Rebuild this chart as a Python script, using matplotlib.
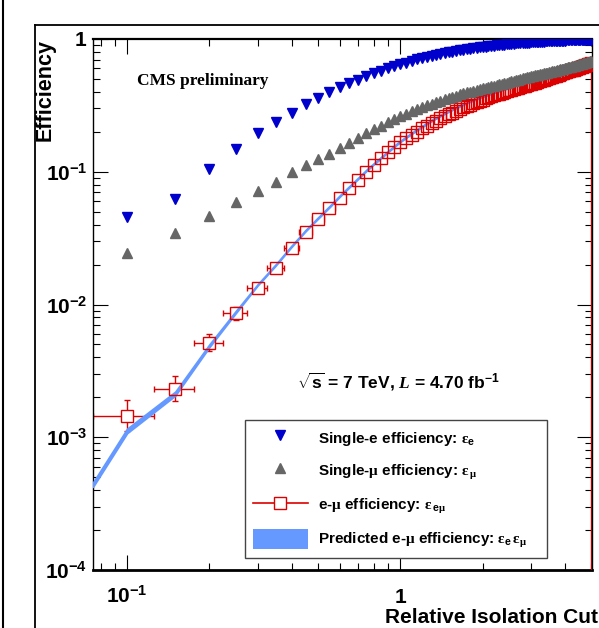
import matplotlib
matplotlib.use("Agg")
import matplotlib.pyplot as plt
import numpy as np
from matplotlib.lines import Line2D
from matplotlib.patches import Patch
from matplotlib.ticker import FixedLocator, FixedFormatter, LogLocator, NullFormatter

plt.rcParams['font.family'] = ['Liberation Sans', 'DejaVu Sans']
plt.rcParams['font.weight'] = 'bold'
plt.rcParams['mathtext.fontset'] = 'custom'
plt.rcParams['mathtext.rm'] = 'Liberation Serif'
plt.rcParams['mathtext.it'] = 'Liberation Serif:italic'
plt.rcParams['mathtext.bf'] = 'Liberation Sans:bold'
plt.rcParams['mathtext.sf'] = 'Liberation Sans:bold'

# ---------------- data ----------------
iso_cut = [0.10, 0.15, 0.20, 0.25, 0.30, 0.35, 0.40, 0.45, 0.50, 0.55,
           0.60, 0.65, 0.70, 0.75, 0.80, 0.85, 0.90, 0.95, 1.00, 1.05,
           1.10, 1.15, 1.20, 1.25, 1.30, 1.35, 1.40, 1.45, 1.50, 1.55,
           1.60, 1.65, 1.70, 1.75, 1.80, 1.85, 1.90, 1.95, 2.00, 2.05,
           2.10, 2.15, 2.20, 2.25, 2.30, 2.35, 2.40, 2.45, 2.50, 2.55,
           2.60, 2.65, 2.70, 2.75, 2.80, 2.85, 2.90, 2.95, 3.00, 3.05,
           3.10, 3.15, 3.20, 3.25, 3.30, 3.35, 3.40, 3.45, 3.50, 3.55,
           3.60, 3.65, 3.70, 3.75, 3.80, 3.85, 3.90, 3.95, 4.00, 4.05,
           4.10, 4.15, 4.20, 4.25, 4.30, 4.35, 4.40, 4.45, 4.50, 4.55,
           4.60, 4.65, 4.70, 4.75, 4.80, 4.85, 4.90, 4.95, 5.00]

eff_e = [0.046, 0.062, 0.105, 0.148, 0.195, 0.237, 0.278, 0.322, 0.362, 0.398,
         0.432, 0.464, 0.495, 0.524, 0.550, 0.576, 0.600, 0.623, 0.645, 0.665,
         0.684, 0.701, 0.717, 0.732, 0.746, 0.759, 0.771, 0.783, 0.794, 0.804,
         0.813, 0.822, 0.830, 0.838, 0.845, 0.852, 0.859, 0.865, 0.871, 0.877,
         0.882, 0.887, 0.892, 0.896, 0.900, 0.904, 0.908, 0.912, 0.915, 0.919,
         0.922, 0.925, 0.928, 0.931, 0.934, 0.936, 0.939, 0.941, 0.943, 0.945,
         0.947, 0.949, 0.951, 0.953, 0.955, 0.957, 0.958, 0.960, 0.961, 0.963,
         0.964, 0.966, 0.967, 0.968, 0.970, 0.971, 0.972, 0.973, 0.974, 0.975,
         0.976, 0.977, 0.978, 0.979, 0.980, 0.981, 0.982, 0.983, 0.984, 0.985,
         0.985, 0.986, 0.987, 0.988, 0.988, 0.989, 0.990, 0.990, 0.991]

eff_mu = [0.0243, 0.0344, 0.0466, 0.0594, 0.0719, 0.084, 0.099, 0.112, 0.124, 0.137,
          0.152, 0.166, 0.180, 0.195, 0.209, 0.222, 0.236, 0.250, 0.263, 0.274,
          0.285, 0.296, 0.306, 0.316, 0.326, 0.335, 0.344, 0.352, 0.360, 0.368,
          0.375, 0.382, 0.389, 0.396, 0.402, 0.408, 0.414, 0.420, 0.425, 0.430,
          0.435, 0.440, 0.445, 0.450, 0.455, 0.460, 0.465, 0.470, 0.475, 0.480,
          0.485, 0.490, 0.495, 0.500, 0.505, 0.510, 0.514, 0.519, 0.523, 0.527,
          0.531, 0.535, 0.539, 0.543, 0.547, 0.551, 0.555, 0.559, 0.563, 0.567,
          0.571, 0.575, 0.579, 0.583, 0.587, 0.591, 0.595, 0.599, 0.603, 0.607,
          0.611, 0.615, 0.619, 0.623, 0.627, 0.631, 0.635, 0.639, 0.643, 0.647,
          0.651, 0.655, 0.659, 0.663, 0.667, 0.671, 0.675, 0.679, 0.683]

eff_emu = [0.00144, 0.00230, 0.00515, 0.00857, 0.0134, 0.0189, 0.0265, 0.0353, 0.0440, 0.0530,
           0.0637, 0.0750, 0.0866, 0.0990, 0.112, 0.126, 0.140, 0.154, 0.168, 0.179,
           0.190, 0.201, 0.212, 0.222, 0.232, 0.242, 0.252, 0.261, 0.270, 0.279,
           0.288, 0.297, 0.305, 0.313, 0.321, 0.329, 0.336, 0.343, 0.350, 0.357,
           0.364, 0.370, 0.376, 0.382, 0.388, 0.394, 0.400, 0.405, 0.411, 0.416,
           0.421, 0.426, 0.431, 0.436, 0.441, 0.446, 0.450, 0.455, 0.460, 0.465,
           0.470, 0.475, 0.480, 0.485, 0.490, 0.495, 0.500, 0.505, 0.510, 0.515,
           0.520, 0.525, 0.530, 0.535, 0.540, 0.545, 0.550, 0.555, 0.560, 0.565,
           0.570, 0.575, 0.580, 0.584, 0.589, 0.594, 0.599, 0.604, 0.609, 0.614,
           0.619, 0.624, 0.629, 0.633, 0.638, 0.643, 0.647, 0.652, 0.656]

# visible vertical error bars on the first e-mu points
emu_err_lo = [0.00033, 0.00043, 0.00065, 0.00097, 0.0012, 0.0015, 0.0018, 0.0020]
emu_err_hi = [0.00046, 0.00060, 0.00085, 0.00093, 0.0012, 0.0015, 0.0018, 0.0020]
bin_half_width = 0.025

# predicted band (eps_e * eps_mu), starting at the left edge of the axis
pred_start_x = 0.075
pred_start_y = 0.00044
pred_rel_err_first = [0.04, 0.04, 0.035, 0.025, 0.02]
pred_rel_err_rest = 0.012

y_tick_vals = [1e-4, 1e-3, 1e-2, 1e-1, 1]
y_tick_labels = [r'$\mathbf{10^{-4}}$', r'$\mathbf{10^{-3}}$', r'$\mathbf{10^{-2}}$',
                 r'$\mathbf{10^{-1}}$', r'$\mathbf{1}$']
x_tick_vals = [0.1, 1]
x_tick_labels = [r'$\mathbf{10^{-1}}$', r'$\mathbf{1}$']

legend_labels = [
    r'Single-e efficiency: $\mathrm{\varepsilon}_{\mathbf{e}}$',
    r'Single-$\mathrm{\mu}$ efficiency: $\mathrm{\varepsilon}_{\,\mathrm{\mu}}$',
    r'e-$\mathrm{\mu}$ efficiency: $\mathrm{\varepsilon}_{\,\mathbf{e}\mathrm{\mu}}$',
    r'Predicted e-$\mathrm{\mu}$ efficiency: $\mathrm{\varepsilon}_{\mathbf{e}}\,\mathrm{\varepsilon}_{\mathrm{\mu}}$',
]

# ---------------- style ----------------
BLUE = '#0000CC'
GRAY = '#666666'
RED = '#DD0000'
BAND = '#6699FF'

W, H = 599, 628
fig = plt.figure(figsize=(W / 100, H / 100), dpi=100)
fig.patch.set_facecolor('white')

# outer frames (canvas borders)
fig.add_artist(Line2D([2.5 / W, 2.5 / W], [0, 1], color='black', lw=1.5, transform=fig.transFigure))
fig.add_artist(Line2D([35 / W, 1], [1 - 25 / H, 1 - 25 / H], color='black', lw=1.3, transform=fig.transFigure))
fig.add_artist(Line2D([35 / W, 35 / W], [0, 1 - 25 / H], color='black', lw=1.3, transform=fig.transFigure))

ax_left, ax_right, ax_top, ax_bottom = 93, 592, 39, 570
AW, AH = ax_right - ax_left, ax_bottom - ax_top
ax = fig.add_axes([ax_left / W, 1 - ax_bottom / H, AW / W, AH / H])
ax.set_xscale('log')
ax.set_yscale('log')
ax.set_xlim(0.075, 5.025)
ax.set_ylim(1e-4, 1.0)

x = np.array(iso_cut)
e = np.array(eff_e)
m = np.array(eff_mu)
em = np.array(eff_emu)

# predicted band
px = np.concatenate([[pred_start_x], x])
py = np.concatenate([[pred_start_y], e * m])
rel = np.full(len(px), pred_rel_err_rest)
rel[:len(pred_rel_err_first)] = pred_rel_err_first
ax.fill_between(px, py * (1 - rel), py * (1 + rel), color=BAND, lw=1.2, edgecolor=BAND, zorder=3)

# e-mu error bars
n_err = len(emu_err_lo)
ax.errorbar(x, em, xerr=bin_half_width, fmt='none', ecolor=RED, elinewidth=1.0,
            capsize=2.5, capthick=1.0, zorder=2)
ax.errorbar(x[:n_err], em[:n_err], yerr=[emu_err_lo, emu_err_hi], fmt='none', ecolor=RED,
            elinewidth=1.0, capsize=2.5, capthick=1.0, zorder=2)
# white interior under squares (hides bars inside the marker)
ax.plot(x, em, ls='none', marker='s', ms=9, mfc='white', mec='none', zorder=2.5)
# right edge drop of the e-mu graph
ax.plot([x[-1], x[-1]], [em[-1], 1e-4], color='#AA0000', lw=1.0, zorder=4)
ax.plot(x, em, ls='none', marker='s', ms=9, mfc='none', mec=RED, mew=1.0, zorder=4)

# single efficiencies
ax.plot(x, m, ls='none', marker='^', ms=7.4, color=GRAY, mec=GRAY, zorder=5)
ax.plot(x, e, ls='none', marker='v', ms=7.4, color=BLUE, mec=BLUE, zorder=5)

# ticks
ax.xaxis.set_major_locator(FixedLocator(x_tick_vals))
ax.xaxis.set_major_formatter(FixedFormatter(x_tick_labels))
ax.xaxis.set_minor_locator(LogLocator(base=10, subs=np.arange(2, 10), numticks=20))
ax.xaxis.set_minor_formatter(NullFormatter())
ax.yaxis.set_major_locator(FixedLocator(y_tick_vals))
ax.yaxis.set_major_formatter(FixedFormatter(y_tick_labels))
ax.yaxis.set_minor_locator(LogLocator(base=10, subs=np.arange(2, 10), numticks=20))
ax.yaxis.set_minor_formatter(NullFormatter())

ax.tick_params(which='both', direction='in', top=True, right=True, color='black')
ax.tick_params(which='major', length=10.5, width=0.8, labelsize=15)
ax.tick_params(which='minor', length=5.2, width=0.8)
ax.tick_params(axis='y', which='major', pad=4)
ax.tick_params(axis='x', which='major', pad=23.5)
for lab in ax.get_xticklabels():
    lab.set_verticalalignment('baseline')

for side, lw in [('left', 1.0), ('bottom', 2.0), ('top', 1.6), ('right', 1.0)]:
    ax.spines[side].set_linewidth(lw)
    ax.spines[side].set_color('black')

# axis labels
ax.set_xlabel('Relative Isolation Cut', fontsize=15, fontweight='bold', loc='right')
ax.xaxis.set_label_coords((598 - ax_left) / AW, -(623 - ax_bottom) / AH)
ax.xaxis.label.set_verticalalignment('baseline')
ax.xaxis.label.set_horizontalalignment('right')

ax.set_ylabel('Efficiency', fontsize=15.5, fontweight='bold', loc='top')
ax.yaxis.set_label_coords(-(ax_left - 51) / AW, 1.0)
ax.yaxis.label.set_verticalalignment('baseline')
ax.yaxis.label.set_horizontalalignment('right')

# annotations
ax.text((137 - ax_left) / AW, (ax_bottom - 81) / AH, 'CMS preliminary',
        transform=ax.transAxes, family='Liberation Serif', fontweight='bold', fontsize=12.5,
        ha='left', va='center')
ax.text((297 - ax_left) / AW, (ax_bottom - 382) / AH,
        r'$\sqrt{\mathbf{s}}$ = 7 TeV, $L$ = 4.70 fb$^{\mathbf{-1}}$',
        transform=ax.transAxes, fontweight='bold', fontsize=12.5, ha='left', va='center')

# legend
handles = [
    Line2D([], [], ls='none', marker='v', ms=7.4, color=BLUE),
    Line2D([], [], ls='none', marker='^', ms=7.4, color=GRAY),
    Line2D([], [], color=RED, lw=1.2, marker='s', ms=9, mfc='white', mec=RED, mew=1.0),
    Patch(facecolor=BAND, edgecolor='none'),
]
leg = ax.legend(handles, legend_labels, loc='lower left',
                bbox_to_anchor=((245 - ax_left) / AW, (ax_bottom - 558) / AH,
                                (547 - 245) / AW, (558 - 420) / AH),
                mode='expand',
                borderaxespad=0, frameon=True, fancybox=False, framealpha=1, edgecolor='#444444',
                prop={'family': 'Liberation Sans', 'weight': 'bold', 'size': 11},
                handlelength=3.6, handleheight=1.65, labelspacing=0.85, handletextpad=0.65,
                borderpad=0.5, numpoints=1)
leg.get_frame().set_linewidth(1.0)
leg.set_zorder(10)

fig.savefig('out.png', dpi=100, facecolor='white')
